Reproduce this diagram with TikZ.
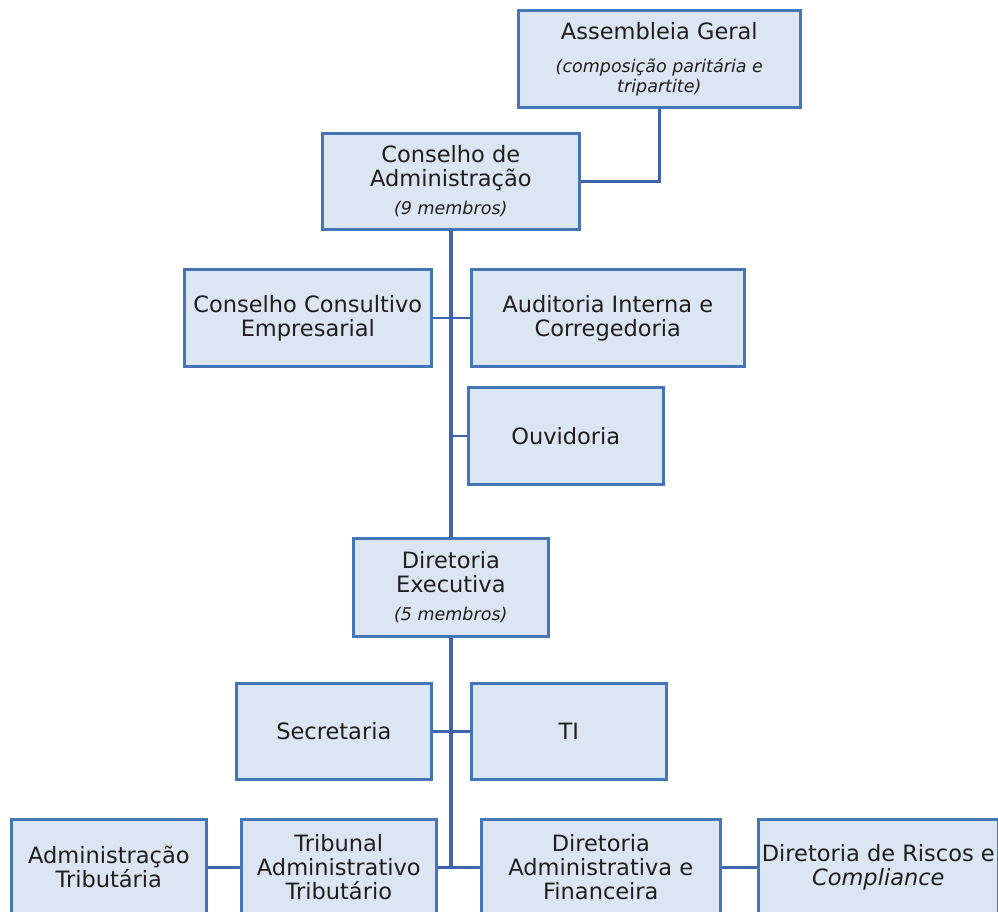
\documentclass[tikz,border=0pt]{standalone}
\usepackage{fontspec}
\setmainfont{DejaVu Sans}
\usepackage{tikz}
\usetikzlibrary{positioning}

\definecolor{boxfill}{HTML}{DCE6F2}
\definecolor{boxline}{HTML}{4375B7}
\definecolor{linkline}{HTML}{3F64AE}
\definecolor{txtgray}{HTML}{1E1E1E}

\newcommand{\memb}[1]{{\fontsize{17.5}{20}\selectfont\itshape #1}}

\begin{document}
\begin{tikzpicture}[
        x=1pt, y=-1pt,
        unit/.style={draw=boxline, fill=boxfill, line width=2.6pt, anchor=north west,
                     align=center, text=txtgray, inner sep=1pt, minimum height=96pt,
                     font=\fontsize{22.5}{24}\selectfont},
        link/.style ={draw=linkline, line width=2.6pt},
        trunk/.style={draw=linkline, line width=3.6pt}
    ]
        \useasboundingbox (0,0) rectangle (998,912);
        % assembly and board
        \node[unit, minimum width=282pt, minimum height=97pt] (ag) at (517,9)
            {Assembleia Geral\\[9pt]\memb{(composição paritária e}\\[-4pt]\memb{tripartite)}};
        \node[unit, minimum width=257pt] (ca) at (321,132)
            {Conselho de\\Administração\\[4pt]\memb{(9 membros)}};
        % advisory bodies
        \node[unit, minimum width=247pt, minimum height=97pt] (cce) at (183,268)
            {Conselho Consultivo\\Empresarial};
        \node[unit, minimum width=273pt, minimum height=97pt] (aic) at (470,268)
            {Auditoria Interna e\\Corregedoria};
        \node[unit, minimum width=195pt, minimum height=97pt] (ouv) at (467,386) {Ouvidoria};
        % executive board
        \node[unit, minimum width=195pt, minimum height=98pt] (de) at (352,537)
            {Diretoria\\Executiva\\[4pt]\memb{(5 membros)}};
        \node[unit, minimum width=195pt] (sec) at (235,682) {Secretaria};
        \node[unit, minimum width=195pt] (ti)  at (470,682) {TI};
        % bottom row (cut at the page edge)
        \node[unit, minimum width=195pt] (at)  at (10,818)  {Administração\\Tributária};
        \node[unit, minimum width=195pt] (tat) at (240,818) {Tribunal\\Administrativo\\Tributário};
        \node[unit, minimum width=239pt] (daf) at (480,818) {Diretoria\\Administrativa e\\Financeira};
        \node[unit, minimum width=240pt, inner xsep=0pt] (drc) at (757,818)
            {Diretoria de Riscos e\\\textit{Compliance}};
        % connectors
        \draw[link]  (ag.south) |- (ca.east);
        \draw[trunk] (ca.south) -- (de.north);
        \draw[link]  (cce.east) -- (aic.west);
        \draw[link]  (ouv.west) -- (ouv.west -| ca.south);
        \draw[trunk] (de.south) -- (de.south |- tat.east);
        \draw[link]  (sec.east) -- (ti.west);
        \draw[link]  (at.east)  -- (tat.west);
        \draw[link]  (tat.east) -- (daf.west);
        \draw[link]  (daf.east) -- (drc.west);
    \end{tikzpicture}
\end{document}
